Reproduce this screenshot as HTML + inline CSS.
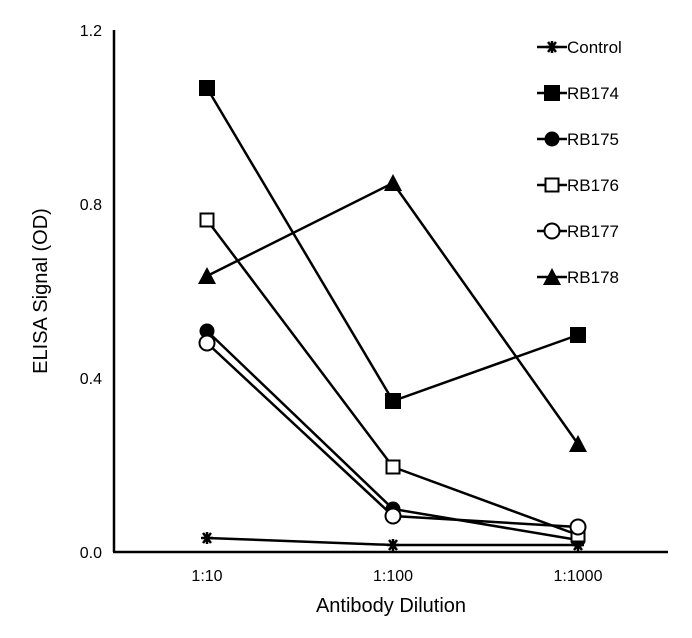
<!DOCTYPE html>
<html><head><style>body{margin:0;background:#fff}svg{display:block}</style></head><body>
<svg width="692" height="638" xmlns="http://www.w3.org/2000/svg" font-family="Liberation Sans, Arial, sans-serif">
<g stroke="#000" stroke-width="2.5" fill="none">
<line x1="114" y1="30" x2="114" y2="552"/>
<line x1="113" y1="552" x2="668" y2="552"/>
</g>
<g font-size="16" fill="#000" text-anchor="end">
<text x="102" y="36">1.2</text>
<text x="102" y="210">0.8</text>
<text x="102" y="384">0.4</text>
<text x="102" y="558">0.0</text>
</g>
<g font-size="16" fill="#000" text-anchor="middle">
<text x="207" y="581">1:10</text>
<text x="393" y="581">1:100</text>
<text x="578" y="581">1:1000</text>
</g>
<text x="391" y="612" font-size="20" text-anchor="middle">Antibody Dilution</text>
<text transform="translate(47,291) rotate(-90)" font-size="20" text-anchor="middle">ELISA Signal (OD)</text>
<g stroke="#000" stroke-width="2.5" fill="none">
<polyline points="207,538 393,545 578,545"/>
<polyline points="207,88 393,401 578,335"/>
<polyline points="207,331 393,509 578,540"/>
<polyline points="207,220 393,467 578,535"/>
<polyline points="207,343 393,516 578,527"/>
<polyline points="207,276 393,183 578,444"/>
</g>
<defs>
<g id="x"><path d="M-6,0H6M-4,-5L4,5M-4,5L4,-5M0,-6V6" stroke="#000" stroke-width="2.5"/></g>
<rect id="s" x="-8" y="-8" width="16" height="16" fill="#000"/>
<circle id="c" r="7.5" fill="#000"/>
<rect id="so" x="-6.5" y="-6.5" width="13" height="13" fill="#fff" stroke="#000" stroke-width="2"/>
<circle id="co" r="7.5" fill="#fff" stroke="#000" stroke-width="2"/>
<path id="t" d="M0,-9L9,8H-9Z" fill="#000"/>
</defs>
<use href="#x" x="207" y="538"/><use href="#x" x="393" y="545"/><use href="#x" x="578" y="545"/>
<use href="#s" x="207" y="88"/><use href="#s" x="393" y="401"/><use href="#s" x="578" y="335"/>
<use href="#c" x="207" y="331"/><use href="#c" x="393" y="509"/><use href="#c" x="578" y="540"/>
<use href="#so" x="207" y="220"/><use href="#so" x="393" y="467"/><use href="#so" x="578" y="535"/>
<use href="#co" x="207" y="343"/><use href="#co" x="393" y="516"/><use href="#co" x="578" y="527"/>
<use href="#t" x="207" y="276"/><use href="#t" x="393" y="183"/><use href="#t" x="578" y="444"/>
<g stroke="#000" stroke-width="2.5">
<line x1="537" y1="47" x2="567" y2="47"/><line x1="537" y1="93" x2="567" y2="93"/>
<line x1="537" y1="139" x2="567" y2="139"/><line x1="537" y1="185" x2="567" y2="185"/>
<line x1="537" y1="231" x2="567" y2="231"/><line x1="537" y1="277" x2="567" y2="277"/>
</g>
<use href="#x" x="552" y="47"/><use href="#s" x="552" y="93"/><use href="#c" x="552" y="139"/>
<use href="#so" x="552" y="185"/><use href="#co" x="552" y="231"/><use href="#t" x="552" y="277"/>
<g font-size="17" fill="#000">
<text x="567" y="53">Control</text><text x="567" y="99">RB174</text><text x="567" y="145">RB175</text>
<text x="567" y="191">RB176</text><text x="567" y="237">RB177</text><text x="567" y="283">RB178</text>
</g>
</svg>
</body></html>
